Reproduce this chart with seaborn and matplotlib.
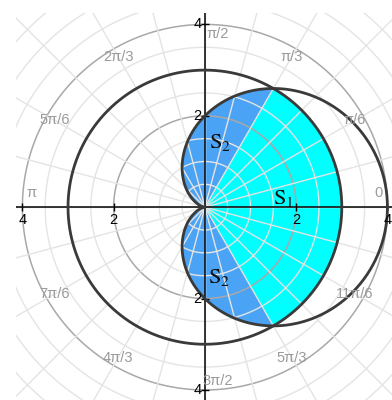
import numpy as np
import pandas as pd
import matplotlib
matplotlib.use("Agg")
import matplotlib.pyplot as plt
import seaborn as sns

# Curves: circle r = 3 and cardioid r = 2 + 2cos(theta)
circle_r = 3.0
cardioid_a = 2.0
cardioid_b = 2.0
cut_angle = np.pi / 3          # where the two curves meet

# Axis tick values and their printed labels
axis_ticks = [-4, -2, 2, 4]
axis_tick_labels = ["4", "2", "2", "4"]

# Angle labels around the polar grid
angle_labels = ["0", "π/6", "π/3", "π/2", "2π/3", "5π/6", "π",
                "7π/6", "4π/3", "3π/2", "5π/3", "11π/6"]

region_labels = [(r"$\mathrm{S}_1$", 1.71, 0.20),
                 (r"$\mathrm{S}_2$", 0.33, 1.42),
                 (r"$\mathrm{S}_2$", 0.31, -1.53)]

sns.set_style("white")
plt.rcParams["font.family"] = ["Liberation Sans", "DejaVu Sans"]
plt.rcParams["mathtext.fontset"] = "stix"

fig = plt.figure(figsize=(3.92, 4.00), dpi=100)
ax = fig.add_axes([16 / 392, 0.0, 1 - 16 / 392, 1 - 13 / 400])
ax.set_xlim(-4.14, 4.10)
ax.set_ylim(-4.22, 4.25)
for s in ax.spines.values():
    s.set_visible(False)
ax.set_xticks([])
ax.set_yticks([])

def cardioid(t):
    return cardioid_a + cardioid_b * np.cos(t)

# S1: sector of the circle between -pi/3 and pi/3
t1 = np.linspace(-cut_angle, cut_angle, 300)
xs1 = np.concatenate([[0], circle_r * np.cos(t1), [0]])
ys1 = np.concatenate([[0], circle_r * np.sin(t1), [0]])
ax.fill(xs1, ys1, color="#00ffff", lw=0, zorder=1)

# S2: cardioid pieces outside that sector
for lo, hi in [(cut_angle, np.pi), (-np.pi, -cut_angle)]:
    t2 = np.linspace(lo, hi, 300)
    r2 = cardioid(t2)
    xs2 = np.concatenate([[0], r2 * np.cos(t2), [0]])
    ys2 = np.concatenate([[0], r2 * np.sin(t2), [0]])
    ax.fill(xs2, ys2, color="#4ba3f5", lw=0, zorder=1)

# Polar grid
grid_minor = "#e4e4e4"
tt = np.linspace(0, 2 * np.pi, 600)
for r in np.arange(0.5, 6.01, 0.5):
    major = abs(r - round(r)) < 1e-9 and int(round(r)) % 2 == 0
    ax.plot(r * np.cos(tt), r * np.sin(tt),
            color="#a8a8a8" if major else grid_minor,
            lw=1.1 if major else 1.0, zorder=2)
for k in range(24):
    a = k * np.pi / 12
    ax.plot([0, 7 * np.cos(a)], [0, 7 * np.sin(a)], color=grid_minor, lw=1.0, zorder=2)

# Coordinate axes
ax.axhline(0, color="black", lw=1.1, zorder=3)
ax.axvline(0, color="black", lw=1.1, zorder=3)
ax.plot(axis_ticks, [0] * len(axis_ticks), ls="none", marker="|", ms=6, mew=1, color="black", zorder=3)
ax.plot([0] * len(axis_ticks), axis_ticks, ls="none", marker="_", ms=6, mew=1, color="black", zorder=3)
for v, lab in zip(axis_ticks, axis_tick_labels):
    ax.text(v, -0.12, lab, ha="center", va="top", fontsize=10.5, color="black", zorder=5)
    ax.text(-0.08, v, lab, ha="right", va="center", fontsize=10.5, color="black", zorder=5)

# Curves
tc = np.linspace(0, 2 * np.pi, 800)
curves = pd.DataFrame({
    "x": np.concatenate([circle_r * np.cos(tc), cardioid(tc) * np.cos(tc)]),
    "y": np.concatenate([circle_r * np.sin(tc), cardioid(tc) * np.sin(tc)]),
    "curve": ["circle"] * len(tc) + ["cardioid"] * len(tc),
})
sns.lineplot(data=curves, x="x", y="y", units="curve", estimator=None, sort=False,
             color="#3a3a3a", lw=2.0, ax=ax, zorder=4)

# Angle labels
for k, lab in enumerate(angle_labels):
    a = k * np.pi / 6
    x, y = 3.8 * np.cos(a), 3.8 * np.sin(a)
    if k in (0, 6):
        y += 0.31
    elif k in (3, 9):
        x += 0.27
    ax.text(x, y, lab, ha="center", va="center", fontsize=10.5, color="#9a9a9a", zorder=5)

for lab, x, y in region_labels:
    ax.text(x, y, lab, ha="center", va="center", fontsize=16,
            color="#111111", zorder=5)

ax.set_xlabel("")
ax.set_ylabel("")
fig.savefig("out.png", dpi=100)
